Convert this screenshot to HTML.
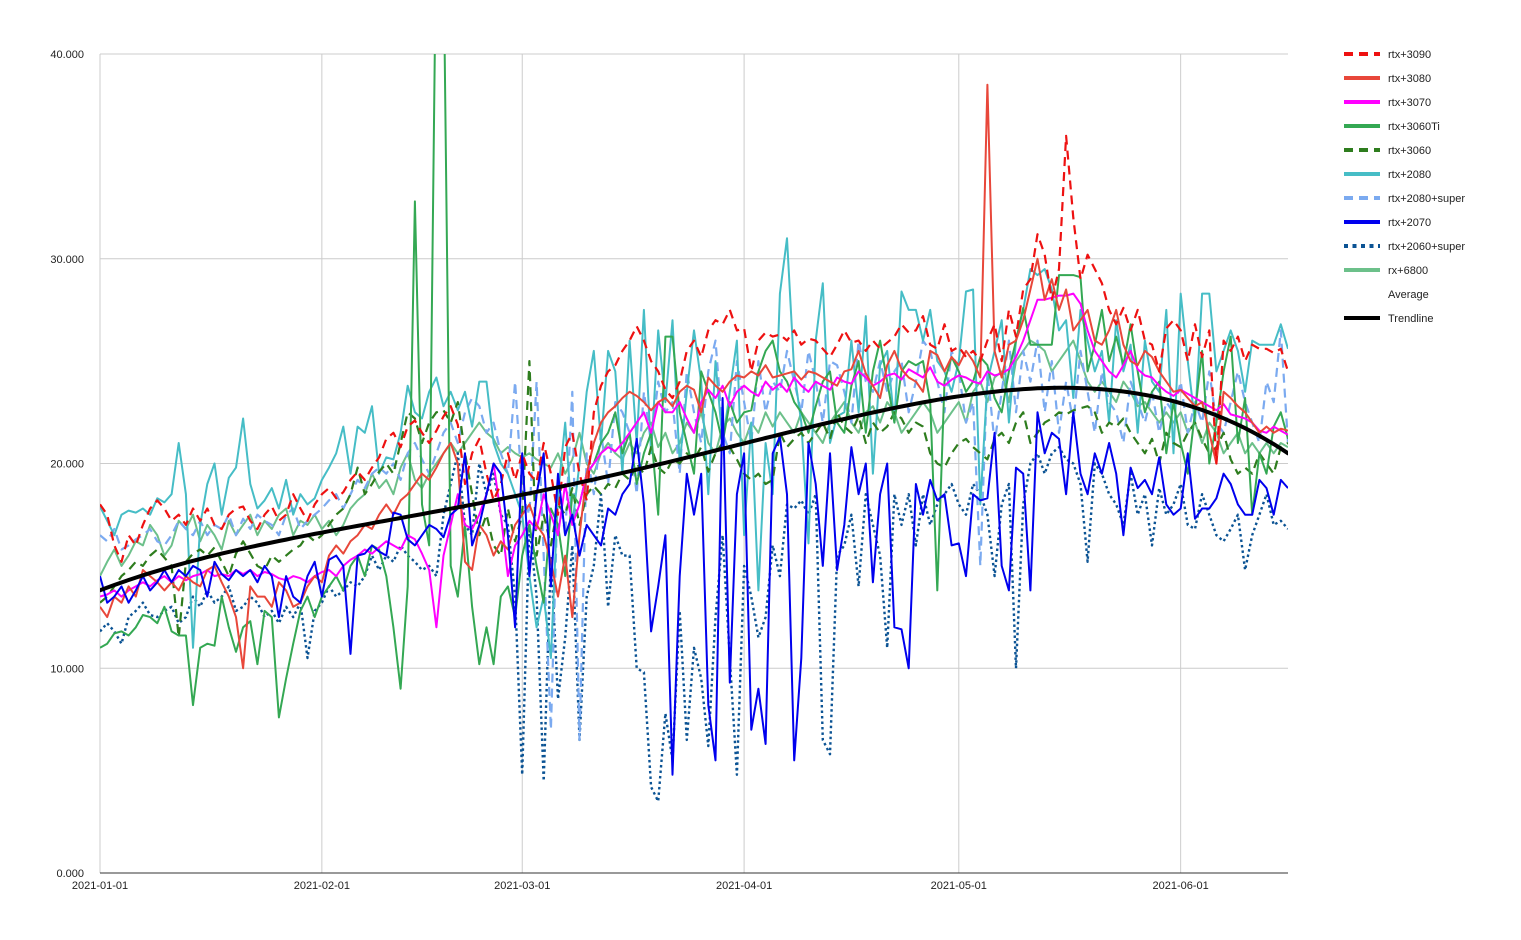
<!DOCTYPE html>
<html><head><meta charset="utf-8"><title>GPU price chart</title>
<style>
html,body{margin:0;padding:0;background:#fff;width:1521px;height:940px;overflow:hidden}
svg{display:block;font-family:"Liberation Sans",Arial,sans-serif}
</style></head>
<body>
<svg id="chart" width="1521" height="940" xmlns="http://www.w3.org/2000/svg"></svg>
<script>
const yTicks=[0,10,20,30,40];
const yTickLabels=["0.000","10.000","20.000","30.000","40.000"];
const xTickDays=[0,31,59,90,120,151];
const xTickLabels=["2021-01-01","2021-02-01","2021-03-01","2021-04-01","2021-05-01","2021-06-01"];
const seriesNames=["rtx+3090","rtx+3080","rtx+3070","rtx+3060Ti","rtx+3060","rtx+2080","rtx+2080+super","rtx+2070","rtx+2060+super","rx+6800"];
const rtx3090=[18,17.5,16,15.2,16.5,16,17,17.8,18.2,17.8,17.2,17.5,17,17.8,17.2,17.8,17,16.8,17.5,17.8,17.9,17.2,16.8,17.5,17.9,17.2,17.5,18.5,17.8,17.2,18,18.5,18.8,18.3,18.6,19.2,19.6,19.2,19.8,20.3,21.2,21.5,20.8,21.8,22.1,21.5,21,21.6,22.3,22.8,21.9,19,20.5,21.2,19.5,18.2,19,20.5,19.2,20.5,19.5,19.1,21,19.5,17.5,20.8,21.5,19.5,18.2,22.5,23.8,24.5,24.8,25.5,26,26.7,26,25,24.5,23.6,23.2,24,25.5,26,25.2,26.5,27,26.8,27.5,26.5,26.6,24.5,26,26.4,26.2,26.3,26,26.5,25.8,26.1,26,25.6,25.2,25.8,26.5,25.9,26,25.5,26,25.6,25.9,26.2,26.8,26.4,26.5,27.2,25.8,25.6,26.8,25.5,25.7,25.2,25.5,25,26,26.8,25,27.5,26.2,28.5,29,31.2,30.2,28,29.5,36,32,29,30.2,29.5,28.8,27.5,26.8,27.6,26.5,27.5,26,25.8,24.5,26.6,27,26.5,25,26.8,25.2,26.5,20,26,25.5,26.2,25,25.8,25.6,25.6,25.4,25.6,24.5];
const rtx3080=[13,12.5,13.5,13.2,14,13.5,14.8,14.5,14.2,13.8,14.2,13.8,14.5,14.2,14,14.8,15,14.2,13.5,12.5,10,14,13.5,13.5,13,14.2,13.8,13,13.2,14,14.5,14.2,15.5,16,15.6,16.2,16.5,17,16.8,17.5,18,17.5,18.2,18.5,19,19.5,19.2,19.8,20.5,21,20,15.2,14.8,17,16.5,15.5,16.2,15.8,17,17.5,18,17,16.5,15.2,13.5,15.5,12.5,16.5,19.5,21,22,22.5,22.8,23.2,23.5,23.3,23,22.6,23,23.2,22.8,23.5,23.8,23.6,22.5,24.2,23.8,23.5,24,24.3,24.2,24.5,24.3,24.8,24.2,24.3,24.4,24.5,24.1,24.5,24.4,24.2,24,23.8,24.5,24.6,25.5,24.4,23.8,23.2,24.8,25.5,24.6,24.2,24,23.5,25.5,25.3,24.5,25.2,24.8,25.5,25,24.2,38.5,25.5,24.2,25.8,26,27,28.5,30,28,29,27.5,28.5,26.5,27,27.5,26,25.8,26.5,27.5,25.8,25,24.8,25.5,25.2,24.5,24,23.5,23.6,23.2,22.8,23,21.5,20,23.5,23.2,22.8,22.5,22,21.5,21.8,21.5,21.7,21.6];
const rtx3070=[13.5,13.6,13.8,13.5,13.8,14,14.2,14,14.3,14.5,14.2,14.5,14.3,14.5,14.6,14.8,14.5,14.6,14.5,14.8,14.6,14.8,14.5,14.7,14.6,14.4,14.3,14.5,14.4,14.2,14.5,14.7,14.8,14.5,15,15.3,15.5,15.8,15.6,15.9,16.2,16,15.8,16.5,16.3,15.6,14.8,12,15.5,17,18.5,17,16.8,17.5,18.5,20,17.5,14.5,16,16.5,17.2,16.8,18.5,17.5,16.5,19,17,18,19.5,20,20.5,20.8,20.6,21,21.5,22,22.5,21.5,23,22.5,22.5,23,22.2,21.5,23,23.6,23.2,23.8,22.8,23.5,23.8,23.5,23.3,24,23.6,23.9,23.5,24.2,23.8,23.5,24,23.8,23.6,24.2,24,23.9,24.5,24.2,23.8,24,24.3,24.4,24.1,24.6,24.4,24.2,24.7,24,23.8,24.1,24.3,24.2,24,23.9,24.5,24.3,24.4,24.6,25.2,26,27,28,28,28.1,28.2,28.2,28.3,27.8,26.5,25.5,25,24.5,24.2,24.8,25.5,24.6,24.3,24.2,23.8,23.5,23.3,23.6,23.4,23.2,23,22.8,22.6,22.9,22.4,22.3,22.2,22,21.6,21.5,21.8,21.6,21.4];
const rtx3060ti=[11,11.2,11.7,11.8,11.6,12,12.6,12.5,12.2,13,11.8,11.6,11.6,8.2,11,11.2,11.1,13.5,12,10.8,12,12.3,10.2,12.8,12.5,7.6,9.5,11.2,12.8,13.5,12.5,13.5,14,14.5,13.8,15,15.5,14.5,16,15.8,14.5,12,9,14,32.8,18,16,47,45,15,13.5,17,13,10.2,12,10.2,13.5,14,12.5,15.5,17,15,13.2,17.8,17,14.5,18.5,18,19.5,20,21,21.5,22.5,20.5,21.5,19,20.5,21.5,17.5,26.2,26.2,22.5,21,19.5,24.5,23.5,22.5,21,23,22,22.5,22.6,24.5,25.5,26,24.5,24,23,22.5,21.5,22.8,24,24.5,22,21.5,23.8,25,21.5,24.5,26,24,22,24.5,25,24.8,25,23,13.8,24,25.2,24.5,23.5,24,25.2,24.8,23.2,22.5,24.5,26,27.6,25.8,25.8,25.8,25.8,29.2,29.2,29.2,29.1,24.5,25.8,27.5,25,26.2,24.8,26.8,24.5,22.5,23.5,24,20.5,23,21,19.5,22.5,25.5,20,22,24.5,26.2,21,23.2,17.5,20.5,19.5,21.8,22.5,21.2];
const rtx3060=[13.2,13.5,14,14.5,14.8,15.2,15,15.5,15.8,15.4,15,11.5,15.2,15.6,15.8,15.5,15.9,15.2,14.5,15.6,16.2,15.6,15,14.8,15.5,15.2,15.5,15.8,16,16.5,16.2,16.5,17,17.5,17.8,18.5,19.8,18.5,19,19.6,20,19.5,21,22.5,22.2,21,22,22.5,22.6,22,23,20.5,18.5,16.5,17.5,16,15.5,17.8,16.2,17.5,25,15.5,17.5,16,18,17.5,18.8,17,18.5,18.9,18.5,19,18.8,19.5,19.2,20,19.5,20.8,19.8,19.5,20.2,20,20.5,20.2,20.8,19.6,20.5,21,20.8,20.2,19.5,19.2,19.5,19,19.2,21.5,20.8,21.2,21.5,21,21.5,22,21.2,22.5,21.8,21.5,22.3,21,22,21.5,21.8,22.5,22.2,21.5,22,21.8,20.5,20,19.8,20.5,21,21.2,20.8,20.5,20.2,21.2,21.5,21,22,22.5,21,21.5,22,22.2,22.5,22.4,22.6,22.7,22.8,22.5,21.5,22,21.8,22.2,21.5,21,20.5,21.2,20,21.5,21,20.8,21.5,22,21.2,20.5,20.8,21.5,20.2,19.5,19.8,19.5,20.5,20,19.5,20.8,21];
const rtx2080=[17.9,17.2,16.5,17.5,17.7,17.6,17.8,17.5,18.3,18.1,18.5,21,18.5,11,17,19,20,17.5,19.3,19.8,22.2,19,17.8,18.2,18.8,17.8,19.2,17.5,18.5,18,18.3,19.2,19.8,20.5,21.8,19.5,21.8,21.5,22.8,19.5,20.3,20.2,21.5,23.8,22.5,22.2,23.5,24.2,22.8,23.5,22.6,23.5,21.8,24,24,21,20,19.5,18.5,17.5,14.5,12,13.5,10.5,18.5,22,17,20,23.5,25.5,21,25.5,24.5,19.5,26,21,27.5,20.5,26.5,23,27,20,23.5,26.5,24,18.5,25,21,23.5,26,16.5,22,13.8,21,18.5,28.3,31,24.5,22,16.1,26,28.8,21,22.3,22.5,26,22.5,27.2,19.5,24.8,25.5,22,28.4,27.5,27.5,26,27.5,25,24.5,23.5,25,28.4,28.5,18,24,25.5,27,22,26,27.5,29.5,29.2,29.5,28.5,26.5,27,23.2,27.5,26,24.5,25.5,22,27,24.5,25.8,21.5,26,24,23.5,27.5,20.5,28.3,25,22,28.3,28.3,24.5,25.5,26.5,25.5,23.5,26,25.8,25.8,25.8,26.8,25.6];
const rtx2080super=[16.5,16.2,16.8,15.8,16,16.3,16.5,16.8,16.2,16,16.5,17.2,16.8,16.5,17.2,16.5,17,16.8,17.5,16.5,17.3,16.8,17.5,17.2,17,16.5,17.5,17.8,16.8,17.2,17.5,17.8,18.2,18.5,17.8,18.5,19.2,18.8,19.5,19.8,19.5,20,19.2,20.5,21,20.2,19.5,20.5,21.5,22,21,22.5,23.2,22.8,21.5,22,20.5,19.5,24,18.5,17.5,24,15.5,7,19,16.5,23.5,6.5,20.5,18.5,21.5,19,23,22.5,21.5,18.5,23.5,21,24,22.5,23,19.5,24.5,22.5,21,24.5,26,21.5,20.5,25,23,21,25,22.5,24,23.5,25.5,24,22.5,25.5,24,22,25,24.8,23.5,22,26,24,23.5,25,23.5,24.5,25,22.5,24,26,25.5,24,22.5,25.5,24.5,22,23,15,24.5,21,23.5,26,22.5,25.5,24,26,22.5,25,21.5,24,22,25.5,23.5,21.5,24.5,23,22.5,21,24,23,22,23.5,21.5,23,22.5,24,21.5,23,22,24.5,22,21.5,23,24.5,23,22,21,24,23,26.5,21];
const rtx2070=[14.5,13.2,13.5,14,13.2,13.8,14.5,13.8,14.2,14.8,14.2,14.8,14.5,15,14.8,13.5,15.2,14.6,14.3,14.8,14.5,14.8,14.2,15,14.5,12.5,14.5,13.5,13.2,14.5,15.2,13.5,15.3,15.5,15,10.7,15.5,15.6,16,15.7,15.5,17.6,17.5,16.3,16,16.5,17,16.8,16.4,17.5,17.8,20.5,16,17,18.5,20,19.5,16.5,12,20.5,14.5,18.5,20.5,14,19.5,16.5,17.5,15.5,17,16.5,16,17.8,17.5,18.5,19,21.2,18,11.8,14,16.5,4.8,14.5,19.5,17.5,19.5,8.2,5.5,23.2,9.3,18.5,20.5,7,9,6.3,20.5,21.3,18.5,5.5,10.5,21,19,15,20.5,14.8,17,20.8,18.5,20,14.2,18.5,20,12,11.9,10,19,17.5,19.2,18.2,18.5,16,16.1,14.5,18.5,18.2,18.3,21.5,15,13.8,19.8,19.5,13.8,22.5,20.5,21.5,21.2,18.5,22.5,19.5,18.5,20.5,19.5,21,19.5,16.5,19.8,18.8,19.2,18.5,20.3,18,17.5,17.8,20.5,17.3,17.8,17.8,18.3,19.5,19,18,17.5,17.5,19.2,18.8,17.5,19.2,18.8];
const rtx2060super=[11.8,12.2,11.8,11.2,12.5,12.8,13.2,12.6,12.5,12.8,13,12.2,12.5,13.5,13,13.8,13.2,13.5,14,12.8,13,13.5,13.2,12.5,12.8,12.2,13,12.5,13.2,10.5,12.8,13.2,14,13.5,13.8,14.2,14,14.5,15.5,14.8,15.5,15.2,16,15.5,15.2,14.8,15,14.5,17.5,19,20.5,17,16.5,20,18.5,19.5,17.5,17,13.5,4.8,17,13.5,4.5,15.5,8.5,11.5,16,6.5,13.5,15,18.5,13,16.5,15.5,15.5,10,9.8,4.2,3.5,7.8,5.5,12.8,6.5,11,9.5,6.2,12.5,16.5,10.5,4.8,15,13.5,11.5,12.5,16,14.5,18,17.8,18.2,17.5,18.5,6.5,5.8,15.5,16,17.5,14,18.5,17,15.5,11,18.5,17,18.5,16,18.5,17,18,18.5,19,18,17.5,19,18.5,17.5,14.5,18,19,10,18,20,20.5,19.5,20.5,20.8,20.2,20,19,15.2,20,19.5,18.5,18,17,19.5,17.5,18.5,16,18.8,17.5,18,19,17,16.8,18.5,17.5,16.5,16.2,16.8,17.5,14.8,16.5,17.5,18.5,17,17.2,16.8];
const rx6800=[14.5,15.2,15.8,15,15.5,16.2,16,17,16.5,15.5,16,17.2,16.8,17.5,16.2,17,16.5,15.8,17.2,16.5,17,17.5,16.5,17.2,16.8,17.5,17.8,16.5,17.2,17,17.5,16.8,17.2,16.5,17,17.8,18.2,18.5,19.5,18.8,19.2,18.5,19.8,20.5,19.2,18.8,19.5,20,20.5,21,20.5,21,21.5,22,21.5,21.2,20.5,20.8,20.5,20.3,20.5,20.2,20,19.8,20.5,19.5,20.2,21.5,20,19.5,20.5,21,20.5,20.2,21,20.5,21.5,22,20.8,21.5,20.5,21,22,21.5,22.5,21,20.5,21.8,22.2,21.5,21,22,21.5,22.5,21.8,22.5,22,21.5,22.5,22,21.5,21,22,22.5,23,22,21.5,22.5,22.8,22,23,22.5,21.5,22,22.5,23,22.5,21.5,22,22.5,23,22,23.5,24,23,24.2,24.5,23,25,25.5,26,25.8,25.5,24.5,25,25.5,26,25,24,23.5,24,23.5,23,24,23.5,22.8,23,22.5,22,22.5,22,22.5,21.5,22,21,22,21.5,20.5,21,21.5,20.5,21,20.5,21,20.5,21,20.8];
// trendline anchor readings (day, value) fitted with a quartic least-squares polynomial
const trendDays=[0,30,59,90,120,134,166];
const trendValues=[13.8,16.6,18.4,21.05,23.25,23.7,20.5];

const NS="http://www.w3.org/2000/svg";
const svg=document.getElementById('chart');
const L=100,R=1288,T=54,B=873,DAYS=166,YMAX=40;
const xs=d=>L+(R-L)*d/DAYS;
const ys=v=>B-(B-T)*v/YMAX;
function mk(tag,attrs,parent){const e=document.createElementNS(NS,tag);for(const k in attrs)e.setAttribute(k,attrs[k]);(parent||svg).appendChild(e);return e;}

const defs=mk('defs',{});
const cp=mk('clipPath',{id:'plotclip'},defs);
mk('rect',{x:L,y:T,width:R-L,height:B-T},cp);

const grid=mk('g',{});


yTicks.forEach((t,i)=>{
  const gl=mk('line',{x1:L,x2:R,y1:ys(t),y2:ys(t),stroke:'#cccccc','stroke-width':1},grid);
  
  
  const tx=mk('text',{x:84,y:ys(t)+4,'text-anchor':'end','font-size':11,fill:'#222'});
  tx.textContent=yTickLabels[i];
  
  
});
xTickDays.forEach((d,i)=>{
  const gl=mk('line',{x1:xs(d),x2:xs(d),y1:T,y2:B,stroke:'#cccccc','stroke-width':1},grid);
  
  
  const tx=mk('text',{x:xs(d),y:889,'text-anchor':'middle','font-size':11,fill:'#222'});
  tx.textContent=xTickLabels[i];
  
  
});
const axis=mk('line',{x1:L,x2:R,y1:B,y2:B,stroke:'#333','stroke-width':1});



const seriesData=[rtx3090,rtx3080,rtx3070,rtx3060ti,rtx3060,rtx2080,rtx2080super,rtx2070,rtx2060super,rx6800];
const styles=[
 {c:'#ee1111',w:2.2,d:'9,6'},{c:'#e8473a',w:2,d:''},{c:'#ff00ff',w:2,d:''},{c:'#34a853',w:2,d:''},
 {c:'#2e7d1e',w:2.2,d:'9,6'},{c:'#46bdc6',w:2,d:''},{c:'#7baaf0',w:2.2,d:'9,6'},{c:'#0000ee',w:2,d:''},
 {c:'#0b5394',w:2.4,d:'2.5,3'},{c:'#6cc08a',w:2,d:''}];
const drawOrder=[9,8,6,5,4,3,2,1,0,7];
const plot=mk('g',{'clip-path':'url(#plotclip)'});


drawOrder.forEach(i=>{
  const arr=seriesData[i],s=styles[i];
  const p=arr.map((v,d)=>(d?'L':'M')+xs(d).toFixed(1)+' '+ys(v).toFixed(1)).join(' ');
  const path=mk('path',{d:p,fill:'none',stroke:s.c,'stroke-width':s.w,'stroke-linejoin':'round'},plot);
  if(s.d)path.setAttribute('stroke-dasharray',s.d);
  
  
});

function fit(xsArr,ysArr,deg){
  const n=deg+1,A=[],bv=[];
  for(let r=0;r<n;r++){A.push(new Array(n).fill(0));bv.push(0);}
  xsArr.forEach((x,k)=>{const t=x/DAYS;for(let r=0;r<n;r++){bv[r]+=ysArr[k]*Math.pow(t,r);for(let c=0;c<n;c++)A[r][c]+=Math.pow(t,r+c);}});
  for(let i=0;i<n;i++){let m=i;for(let r=i+1;r<n;r++)if(Math.abs(A[r][i])>Math.abs(A[m][i]))m=r;
    [A[i],A[m]]=[A[m],A[i]];[bv[i],bv[m]]=[bv[m],bv[i]];
    for(let r=0;r<n;r++){if(r===i)continue;const f=A[r][i]/A[i][i];for(let c=i;c<n;c++)A[r][c]-=f*A[i][c];bv[r]-=f*bv[i];}}
  return bv.map((v,i)=>v/A[i][i]);
}
const coef=fit(trendDays,trendValues,4);
let tp='';
for(let d=0;d<=DAYS;d+=1){const t=d/DAYS;let v=0;coef.forEach((c,i)=>v+=c*Math.pow(t,i));tp+=(d?'L':'M')+xs(d).toFixed(1)+' '+ys(v).toFixed(1)+' ';}
const trend=mk('path',{d:tp,fill:'none',stroke:'#000','stroke-width':4,'stroke-linecap':'round'},plot);



const legend=mk('g',{});


const legNames=seriesNames.concat(['Average','Trendline']);
legNames.forEach((n,i)=>{
  const y=54+i*24;
  const g=mk('g',{},legend);
  
  
  if(i<10){const s=styles[i];
    const ln=mk('line',{x1:1344,x2:1380,y1:y,y2:y,stroke:s.c,'stroke-width':4},g);
    if(s.d)ln.setAttribute('stroke-dasharray',i===8?'4,4.5':'9,6');
  } else if(i===11){mk('line',{x1:1344,x2:1380,y1:y,y2:y,stroke:'#000','stroke-width':4},g);}
  const tx=mk('text',{x:1388,y:y+4,'font-size':11,fill:'#222'},g);
  tx.textContent=n;
});
</script>
</body></html>
